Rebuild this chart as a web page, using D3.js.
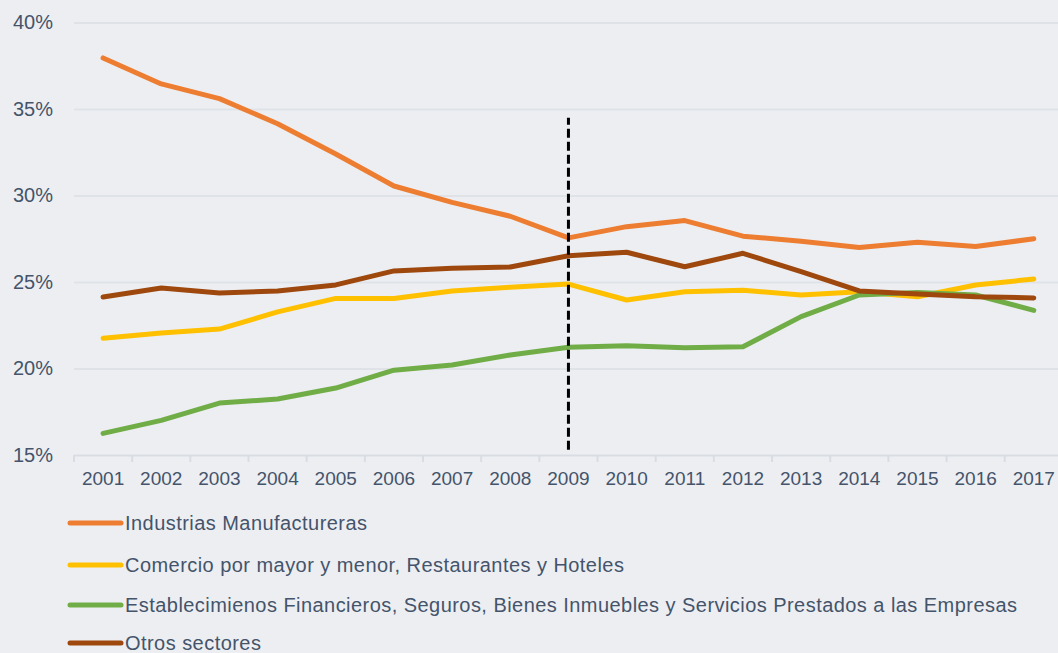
<!DOCTYPE html>
<html>
<head>
<meta charset="utf-8">
<script src="https://cdn.jsdelivr.net/npm/d3@7"></script>
<style>
  html, body { margin: 0; padding: 0; background: #edeef2; }
  svg { display: block; }
  text { font-family: "Liberation Sans", Arial, sans-serif; fill: #44546a; }
</style>
</head>
<body>
<svg id="canvas"></svg>
<script>
var w = 1058;
var h = 653;

var years = ['2001','2002','2003','2004','2005','2006','2007','2008','2009',
             '2010','2011','2012','2013','2014','2015','2016','2017'];
var yTicks = [15, 20, 25, 30, 35, 40];

var seriesNames = [
  'Industrias Manufactureras',
  'Comercio por mayor y menor, Restaurantes y Hoteles',
  'Establecimienos Financieros, Seguros, Bienes Inmuebles y Servicios Prestados a las Empresas',
  'Otros sectores'
];
var seriesColours = ['#ed7d31', '#ffc000', '#70ad47', '#9e480e'];

var industrias = [37.95, 36.45, 35.6, 34.15, 32.4, 30.55, 29.6, 28.8, 27.55,
                  28.2, 28.55, 27.65, 27.35, 27.0, 27.3, 27.05, 27.5];
var comercio = [21.75, 22.05, 22.28, 23.27, 24.05, 24.05, 24.48, 24.7, 24.88,
                23.96, 24.44, 24.52, 24.25, 24.44, 24.15, 24.83, 25.17];
var financieros = [16.25, 17.0, 18.0, 18.24, 18.87, 19.9, 20.2, 20.78, 21.23,
                   21.32, 21.2, 21.26, 23.0, 24.25, 24.4, 24.25, 23.36];
var otros = [24.13, 24.65, 24.36, 24.48, 24.83, 25.64, 25.8, 25.87, 26.52,
             26.72, 25.88, 26.66, 25.6, 24.48, 24.3, 24.15, 24.08];
var seriesValues = [industrias, comercio, financieros, otros];

var markerYear = '2009';
var markerRange = [15.3, 34.5];

var svg = d3.select('#canvas')
  .attr('width', w)
  .attr('height', h)
  .attr('viewBox', [0, 0, w, h]);

var x = d3.scaleBand()
  .domain(years)
  .range([74, 74 + 17 * 58.17]);
var y = d3.scaleLinear()
  .domain([15, 40])
  .range([455, 22.5]);

// gridlines + y labels
var yAxis = svg.append('g')
  .attr('transform', 'translate(74,0)')
  .call(d3.axisLeft(y).tickValues(yTicks).tickFormat(d => d + '%').tickSize(-(w - 74)).tickPadding(21));
yAxis.select('.domain').remove();
yAxis.selectAll('.tick line')
  .attr('stroke', (d) => d == 15 ? '#d9dde3' : '#dfe3e8')
  .attr('stroke-width', 2);
yAxis.selectAll('.tick text')
  .style('font-size', '20px')
  .attr('fill', '#44546a');

// x axis, ticks sit between the categories
var xAxis = svg.append('g')
  .attr('transform', 'translate(0,455)')
  .call(d3.axisBottom(x).tickSize(0).tickPadding(17));
xAxis.select('.domain').remove();
xAxis.selectAll('.tick text')
  .style('font-size', '19px')
  .attr('fill', '#44546a');
svg.append('g')
  .selectAll('line')
  .data(years)
  .enter()
  .append('line')
  .attr('x1', d => x(d))
  .attr('x2', d => x(d))
  .attr('y1', 455)
  .attr('y2', 462)
  .attr('stroke', '#d9dde3')
  .attr('stroke-width', 2);

// series lines
var line = d3.line()
  .x((d, i) => x(years[i]) + x.bandwidth() / 2)
  .y(d => y(d));
svg.append('g')
  .selectAll('path')
  .data(seriesValues)
  .enter()
  .append('path')
  .attr('d', d => line(d))
  .attr('fill', 'none')
  .attr('stroke', (d, i) => seriesColours[i])
  .attr('stroke-width', 5)
  .attr('stroke-linejoin', 'round')
  .attr('stroke-linecap', 'round');

// 2009 marker
svg.append('line')
  .attr('x1', x(markerYear) + x.bandwidth() / 2)
  .attr('x2', x(markerYear) + x.bandwidth() / 2)
  .attr('y1', y(markerRange[0]))
  .attr('y2', y(markerRange[1]))
  .attr('stroke', '#000')
  .attr('stroke-width', 3)
  .attr('stroke-dasharray', '9,4');

// legend
var rowY = [523, 565, 605, 643];
var legend = svg.append('g')
  .selectAll('g')
  .data(seriesNames)
  .enter()
  .append('g')
  .attr('transform', (d, i) => 'translate(0,' + rowY[i] + ')');
legend.append('line')
  .attr('x1', 70)
  .attr('x2', 121)
  .attr('stroke', (d, i) => seriesColours[i])
  .attr('stroke-width', 5)
  .attr('stroke-linecap', 'round');
legend.append('text')
  .attr('x', 125)
  .attr('dy', '0.35em')
  .style('font-size', '20px')
  .style('letter-spacing', '0.45px')
  .text(d => d);
</script>
</body>
</html>
